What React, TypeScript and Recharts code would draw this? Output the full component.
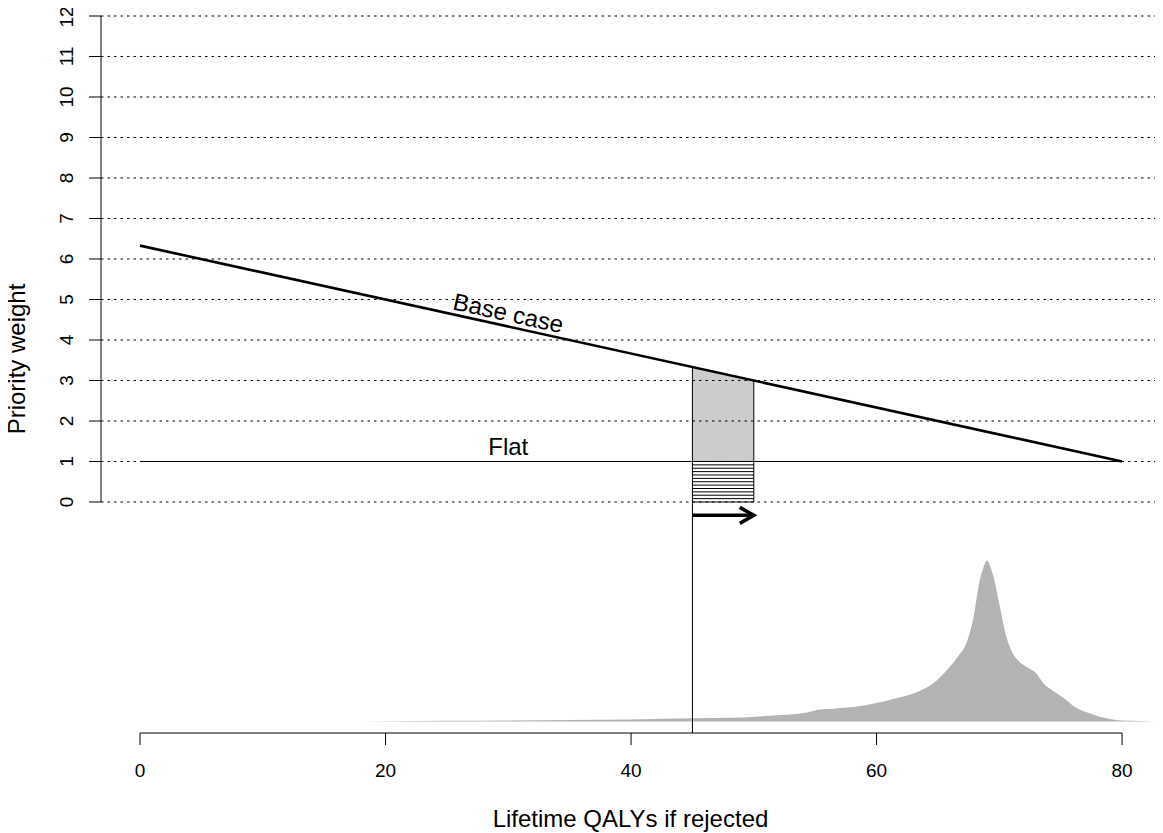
import React from "react";
import {
  ComposedChart,
  Line,
  Area,
  XAxis,
  YAxis,
  ReferenceLine,
  ReferenceDot,
} from "recharts";

// ---------- data ----------
const xTicks = [0, 20, 40, 60, 80];
const yTicks = [0, 1, 2, 3, 4, 5, 6, 7, 8, 9, 10, 11, 12];

const baseCaseX = [0, 80];
const baseCaseY = [6.33, 1];

const flatX = [0, 80];
const flatY = [1, 1];

const shadedX = [45, 50];
const shadedTop = [3.33, 3.0];
const shadedBase = 1;

const hatchLevels = [0.083, 0.167, 0.25, 0.333, 0.417, 0.5, 0.583, 0.667, 0.75, 0.833, 0.917];

const arrowFrom = 45;
const arrowTo = 50;
const arrowLevel = -0.33;

// relative density of lifetime QALYs (peak = 1)
const densX = [
  16, 20, 25, 30, 35, 40, 45, 48.9, 51.6, 54.3, 55.4, 56.5, 58.7, 60.3, 61.5, 62.5, 63.5,
  64.6, 65.7, 66.6, 67.4, 67.9, 68.4, 68.7, 69.0, 69.3, 69.6, 70.0, 70.6, 71.1, 71.6,
  72.3, 73.0, 73.6, 74.2, 74.7, 75.3, 76.0, 76.7, 77.4, 78.1, 78.8, 80, 81.5, 83.1,
];
const densY = [
  0, 0.002, 0.004, 0.006, 0.009, 0.013, 0.02, 0.025, 0.037, 0.056, 0.075, 0.08, 0.096,
  0.12, 0.143, 0.161, 0.19, 0.236, 0.317, 0.4, 0.503, 0.646, 0.876, 0.955, 1.0, 0.955,
  0.876, 0.73, 0.52, 0.422, 0.375, 0.335, 0.3, 0.236, 0.2, 0.174, 0.143, 0.099, 0.068,
  0.05, 0.031, 0.019, 0.006, 0.003, 0,
];

const xLabel = "Lifetime QALYs if rejected";
const yLabel = "Priority weight";
const baseCaseLabel = "Base case";
const flatLabel = "Flat";

// ---------- derived tables ----------
const baseCaseData = baseCaseX.map((x, i) => ({ x, y: baseCaseY[i] }));
const flatData = flatX.map((x, i) => ({ x, y: flatY[i] }));
const shadedData = shadedX.map((x, i) => ({ x, y: shadedTop[i] }));
const densData = densX.map((x, i) => ({ x, d: densY[i] }));

// ---------- layout ----------
const W = 1155;
const H = 825;
const X_DOMAIN: [number, number] = [-3.18, 83.09];
const Y_DOMAIN: [number, number] = [-5.704, 12];
const D_DOMAIN: [number, number] = [-0.0714, 4.382];
const FONT = "'Liberation Sans', Arial, Helvetica, sans-serif";

const YTick = (props: any) => {
  const { x, y, payload } = props;
  return (
    <text
      x={x}
      y={y}
      transform={`rotate(-90 ${x} ${y})`}
      textAnchor="middle"
      fontSize={19}
      fill="#000"
      fontFamily={FONT}
    >
      {payload.value}
    </text>
  );
};

const XTick = (props: any) => {
  const { x, y, payload } = props;
  return (
    <text x={x} y={y} dy="0.71em" textAnchor="middle" fontSize={19} fill="#000" fontFamily={FONT}>
      {payload.value}
    </text>
  );
};

const ArrowShape = (p: any) => {
  const { x1, y1, x2, y2 } = p;
  return (
    <g>
      <line x1={x1} y1={y1} x2={x2} y2={y2} stroke="#000" strokeWidth={3.5} />
      <polyline
        points={`${x2 - 14},${y2 - 8} ${x2},${y2} ${x2 - 14},${y2 + 8}`}
        fill="none"
        stroke="#000"
        strokeWidth={3.5}
      />
    </g>
  );
};

export default function App() {
  return (
    <div style={{ width: W, height: H, fontFamily: FONT }}>
      <ComposedChart width={W} height={H} margin={{ top: 8, right: 3, bottom: 0, left: 0 }}>
        <XAxis
          type="number"
          dataKey="x"
          domain={X_DOMAIN}
          allowDataOverflow
          ticks={xTicks}
          axisLine={false}
          tickLine={{ stroke: "#000" }}
          tickSize={12}
          tickMargin={19}
          height={100}
          tick={<XTick />}
          label={(p: any) => {
            const vb = p.viewBox || {};
            return (
              <text
                x={vb.x + vb.width / 2}
                y={vb.y + 94}
                textAnchor="middle"
                fontSize={24}
                fill="#000"
                fontFamily={FONT}
              >
                {xLabel}
              </text>
            );
          }}
        />
        <YAxis
          type="number"
          domain={Y_DOMAIN}
          allowDataOverflow
          ticks={yTicks}
          axisLine={false}
          tickLine={{ stroke: "#000" }}
          tickSize={12}
          tickMargin={16}
          width={93}
          tick={<YTick />}
          label={(p: any) => (
            <text
              x={17}
              y={351}
              transform="rotate(-90 17 351)"
              textAnchor="middle"
              fontSize={24}
              fill="#000"
              fontFamily={FONT}
            >
              {yLabel}
            </text>
          )}
        />
        <YAxis yAxisId="dens" type="number" domain={D_DOMAIN} allowDataOverflow hide />

        {/* density */}
        <Area
          yAxisId="dens"
          data={densData}
          dataKey="d"
          type="monotone"
          baseValue={0}
          stroke="none"
          fill="#b3b3b3"
          fillOpacity={1}
          isAnimationActive={false}
          dot={false}
          activeDot={false}
        />

        {/* shaded region */}
        <Area
          data={shadedData}
          dataKey="y"
          type="linear"
          baseValue={shadedBase}
          stroke="none"
          fill="#cccccc"
          fillOpacity={1}
          isAnimationActive={false}
          dot={false}
          activeDot={false}
        />

        {/* gridlines */}
        {yTicks.map((v) => (
          <ReferenceLine
            key={"g" + v}
            y={v}
            stroke="#000"
            strokeWidth={1}
            strokeDasharray="2.5 4"
            ifOverflow="visible"
          />
        ))}

        {/* axis lines */}
        <ReferenceLine
          segment={[
            { x: X_DOMAIN[0], y: yTicks[0] },
            { x: X_DOMAIN[0], y: yTicks[yTicks.length - 1] },
          ]}
          stroke="#000"
          strokeWidth={1}
          ifOverflow="visible"
        />
        <ReferenceLine
          segment={[
            { x: xTicks[0], y: Y_DOMAIN[0] },
            { x: xTicks[xTicks.length - 1], y: Y_DOMAIN[0] },
          ]}
          stroke="#000"
          strokeWidth={1}
          ifOverflow="visible"
        />

        {/* hatching */}
        {hatchLevels.map((v) => (
          <ReferenceLine
            key={"h" + v}
            segment={[
              { x: shadedX[0], y: v },
              { x: shadedX[1], y: v },
            ]}
            stroke="#000"
            strokeWidth={1}
            ifOverflow="visible"
          />
        ))}

        {/* rectangle borders */}
        <ReferenceLine
          segment={[
            { x: shadedX[0], y: shadedTop[0] },
            { x: shadedX[0], y: Y_DOMAIN[0] },
          ]}
          stroke="#000"
          strokeWidth={1}
          ifOverflow="visible"
        />
        <ReferenceLine
          segment={[
            { x: shadedX[1], y: 0 },
            { x: shadedX[1], y: shadedTop[1] },
          ]}
          stroke="#000"
          strokeWidth={1}
          ifOverflow="visible"
        />
        <ReferenceLine
          segment={[
            { x: shadedX[0], y: 0 },
            { x: shadedX[1], y: 0 },
          ]}
          stroke="#000"
          strokeWidth={1}
          ifOverflow="visible"
        />

        {/* arrow */}
        <ReferenceLine
          segment={[
            { x: arrowFrom, y: arrowLevel },
            { x: arrowTo, y: arrowLevel },
          ]}
          ifOverflow="visible"
          shape={ArrowShape}
        />

        {/* lines */}
        <Line
          data={flatData}
          dataKey="y"
          type="linear"
          stroke="#000"
          strokeWidth={1}
          dot={false}
          activeDot={false}
          isAnimationActive={false}
        />
        <Line
          data={baseCaseData}
          dataKey="y"
          type="linear"
          stroke="#000"
          strokeWidth={2.6}
          dot={false}
          activeDot={false}
          isAnimationActive={false}
        />

        {/* text labels */}
        <ReferenceDot
          x={30}
          y={4.667}
          r={0}
          fill="none"
          stroke="none"
          ifOverflow="visible"
          label={(p: any) => {
            const vb = p.viewBox || {};
            const cx = vb.x + (vb.width || 0) / 2;
            const cy = vb.y + (vb.height || 0) / 2;
            return (
              <text
                x={cx}
                y={cy}
                dy="0.35em"
                transform={`rotate(12.4 ${cx} ${cy})`}
                textAnchor="middle"
                fontSize={24}
                fill="#000"
                fontFamily={FONT}
              >
                {baseCaseLabel}
              </text>
            );
          }}
        />
        <ReferenceDot
          x={30}
          y={1.16}
          r={0}
          fill="none"
          stroke="none"
          ifOverflow="visible"
          label={(p: any) => {
            const vb = p.viewBox || {};
            const cx = vb.x + (vb.width || 0) / 2;
            const cy = vb.y + (vb.height || 0) / 2;
            return (
              <text x={cx} y={cy} textAnchor="middle" fontSize={24} fill="#000" fontFamily={FONT}>
                {flatLabel}
              </text>
            );
          }}
        />
      </ComposedChart>
    </div>
  );
}
